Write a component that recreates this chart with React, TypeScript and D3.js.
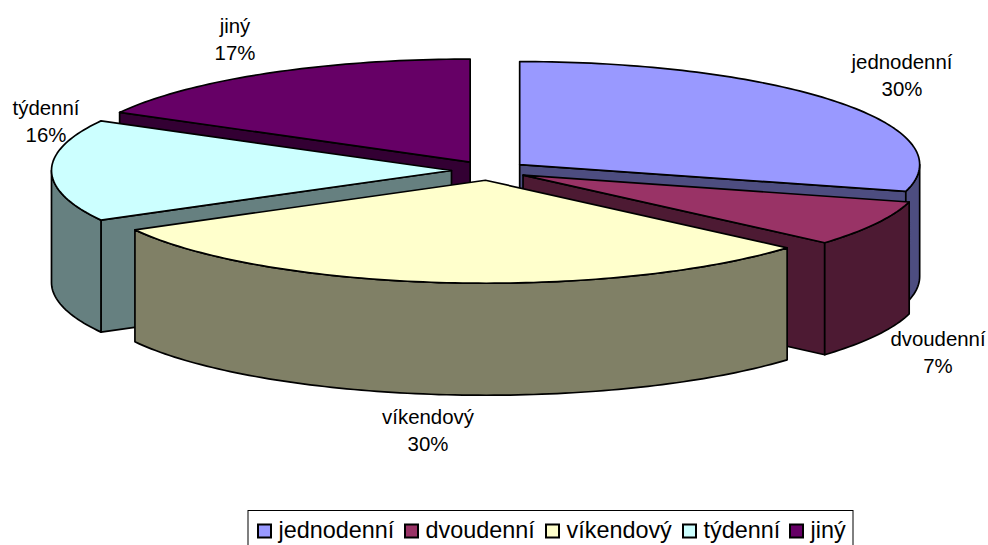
import React from "react";
import * as d3 from "d3";

const categories = ["jednodenní", "dvoudenní", "víkendový", "týdenní", "jiný"];
const values = [29.2, 7.2, 30.6, 16, 17];
const percentLabels = ["30%", "7%", "30%", "16%", "17%"];
const topColors = ["#9999FF", "#993366", "#FFFFCC", "#CCFFFF", "#660066"];
const sideColors = ["#4D4D80", "#4D1A33", "#808066", "#668080", "#330033"];
const paintOrder = [4, 0, 3, 1, 2];
const labelAnchors: [number, number][] = [[902, 62], [938, 339], [428, 417], [46, 108], [235, 26]];

const W = 988, H = 545;
const cx = 489.5, cy = 170.5, rx = 400, ry = 103, depth = 112, explode = 0.095;
const font = "'Liberation Sans', Arial, sans-serif";

const pieGen = d3.pie<number>().sort(null).startAngle(0).endAngle(2 * Math.PI);
const arcsData = pieGen(values);

const px = d3.scaleLinear().domain([-1, 1]).range([-rx, rx]);
const py = d3.scaleLinear().domain([-1, 1]).range([-ry, ry]);
const lineGen = d3.line<[number, number]>();

function App() {
  const slices = paintOrder.map((i) => {
    const a = arcsData[i];
    const mid = (a.startAngle + a.endAngle) / 2;
    const ox = cx + px(explode * Math.sin(mid));
    const oy = cy + py(-explode * Math.cos(mid));
    const pt = (t: number, dz = 0): [number, number] => [ox + px(Math.sin(t)), oy + py(-Math.cos(t)) + dz];
    const samples = (s: number, e: number) => {
      const n = Math.max(2, Math.ceil((e - s) / 0.02));
      return d3.range(n + 1).map((k) => s + ((e - s) * k) / n);
    };
    const top = lineGen([[ox, oy], ...samples(a.startAngle, a.endAngle).map((t) => pt(t))]) + "Z";
    const walls: string[] = [];
    if (a.startAngle > Math.PI) {
      walls.push(lineGen([[ox, oy], pt(a.startAngle), pt(a.startAngle, depth), [ox, oy + depth]])! + "Z");
    }
    if (a.endAngle < Math.PI) {
      walls.push(lineGen([[ox, oy], pt(a.endAngle), pt(a.endAngle, depth), [ox, oy + depth]])! + "Z");
    }
    const s = Math.max(a.startAngle, Math.PI / 2);
    const e = Math.min(a.endAngle, (3 * Math.PI) / 2);
    if (e > s) {
      const ts = samples(s, e);
      walls.push(lineGen([...ts.map((t) => pt(t)), ...ts.slice().reverse().map((t) => pt(t, depth))])! + "Z");
    }
    return { i, top, walls };
  });

  // legend layout
  const legendX = 248, legendY = 510.5, legendW = 605, legendH = 40;
  const entryX = [257, 404, 545, 682, 789];

  return (
    <svg width={W} height={H} style={{ position: "absolute", left: 0, top: 0, display: "block" }}>
      <rect width={W} height={H} fill="#fff" />
      {slices.map((sl) => (
        <g key={sl.i} stroke="#000" strokeWidth={1.7} strokeLinejoin="round">
          {sl.walls.map((d, k) => (
            <path key={k} d={d} fill={sideColors[sl.i]} />
          ))}
          <path d={sl.top} fill={topColors[sl.i]} />
        </g>
      ))}
      {categories.map((c, i) => (
        <text key={c} x={labelAnchors[i][0]} y={labelAnchors[i][1]} textAnchor="middle" fontFamily={font} fontSize={20.4} fill="#000">
          <tspan x={labelAnchors[i][0]} dy={7}>{c}</tspan>
          <tspan x={labelAnchors[i][0]} dy={27}>{percentLabels[i]}</tspan>
        </text>
      ))}
      <rect x={legendX} y={legendY} width={legendW} height={legendH} fill="#fff" stroke="#000" strokeWidth={1} />
      {categories.map((c, i) => (
        <g key={c}>
          <rect x={entryX[i] + 1} y={524.5} width={13} height={13} fill={topColors[i]} stroke="#000" strokeWidth={2} />
          <text x={entryX[i] + 21.5} y={538} fontFamily={font} fontSize={23.4} fill="#000">{c}</text>
        </g>
      ))}
    </svg>
  );
}

export default App;
